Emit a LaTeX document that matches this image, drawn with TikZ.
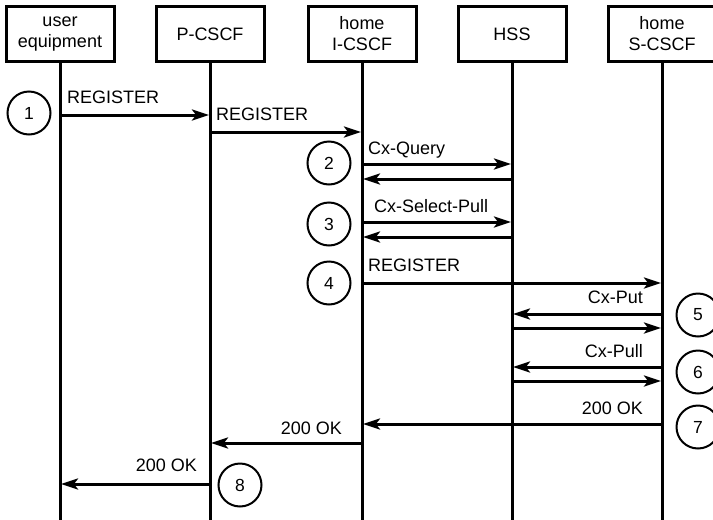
\documentclass[tikz,border=0pt]{standalone}
\usepackage{fontspec}
\setmainfont{Liberation Sans}
\usetikzlibrary{arrows.meta}
\begin{document}
\begin{tikzpicture}[x=1pt,y=-1pt,
  actor/.style={draw,line width=3pt,minimum width=108pt,minimum height=55pt,inner sep=0pt,align=center,font=\fontsize{18}{21}\selectfont},
  life/.style={line width=3pt},
  msg/.style={line width=3pt,-{Stealth[length=17pt,width=11pt,inset=4pt]},shorten >=1pt},
  lbl/.style={inner sep=0pt,text height=13pt,text depth=0pt,font=\fontsize{18}{20}\selectfont},
  num/.style={draw,circle,line width=2pt,minimum size=43pt,inner sep=0pt,font=\fontsize{17.5}{20}\selectfont}]
\useasboundingbox (0,0) rectangle (713,520);
\node[actor] (ue) at (60,34) {user\\equipment};
\node[actor] (pc) at (210,34) {P-CSCF};
\node[actor] (ic) at (362,34) {home\\I-CSCF};
\node[actor] (hss) at (512,34) {HSS};
\node[actor] (sc) at (662,34) {home\\S-CSCF};
\coordinate (bot) at (0,522);
\foreach \n in {ue,pc,ic,hss,sc} \draw[life] (\n.south) -- (\n.south |- bot);
% rows
\coordinate (r1) at (0,115);
\coordinate (r2) at (0,132);
\coordinate (r3) at (0,164);
\coordinate (r3b) at (0,179);
\coordinate (r4) at (0,222);
\coordinate (r4b) at (0,237);
\coordinate (r5) at (0,283);
\coordinate (r6) at (0,314);
\coordinate (r6b) at (0,328);
\coordinate (r7) at (0,367);
\coordinate (r7b) at (0,381);
\coordinate (r8) at (0,424);
\coordinate (r9) at (0,443);
\coordinate (r10) at (0,484);
\draw[msg] (ue |- r1) -- (pc |- r1);
\draw[msg] (pc |- r2) -- (ic |- r2);
\draw[msg] (ic |- r3) -- (hss |- r3);
\draw[msg] (hss |- r3b) -- (ic |- r3b);
\draw[msg] (ic |- r4) -- (hss |- r4);
\draw[msg] (hss |- r4b) -- (ic |- r4b);
\draw[msg] (ic |- r5) -- (sc |- r5);
\draw[msg] (sc |- r6) -- (hss |- r6);
\draw[msg] (hss |- r6b) -- (sc |- r6b);
\draw[msg] (sc |- r7) -- (hss |- r7);
\draw[msg] (hss |- r7b) -- (sc |- r7b);
\draw[msg] (sc |- r8) -- (ic |- r8);
\draw[msg] (ic |- r9) -- (pc |- r9);
\draw[msg] (pc |- r10) -- (ue |- r10);
% labels
\node[lbl,anchor=west] (l1) at (67,97) {REGISTER};
\node[lbl,anchor=west] (l2) at (216,114) {REGISTER};
\node[lbl,anchor=west] (l3) at (368,148) {Cx-Query};
\node[lbl,anchor=west] (l4) at (374,206) {Cx-Select-Pull};
\node[lbl,anchor=west] (l5) at (368,265) {REGISTER};
\node[lbl,anchor=east] (l6) at (643,297) {Cx-Put};
\node[lbl,anchor=east] (l7) at (643,351) {Cx-Pull};
\node[lbl,anchor=east] (l8) at (643,408) {200 OK};
\node[lbl,anchor=east] (l9) at (342,428) {200 OK};
\node[lbl,anchor=east] (l10) at (197,465) {200 OK};
% numbers
\node[num] (n1) at (29,113) {1};
\node[num] (n2) at (329,163) {2};
\node[num] (n3) at (329,224) {3};
\node[num] (n4) at (329,283) {4};
\node[num] (n5) at (698,315) {5};
\node[num] (n6) at (698,372) {6};
\node[num] (n7) at (698,427) {7};
\node[num] (n8) at (240,485) {8};
\end{tikzpicture}
\end{document}
